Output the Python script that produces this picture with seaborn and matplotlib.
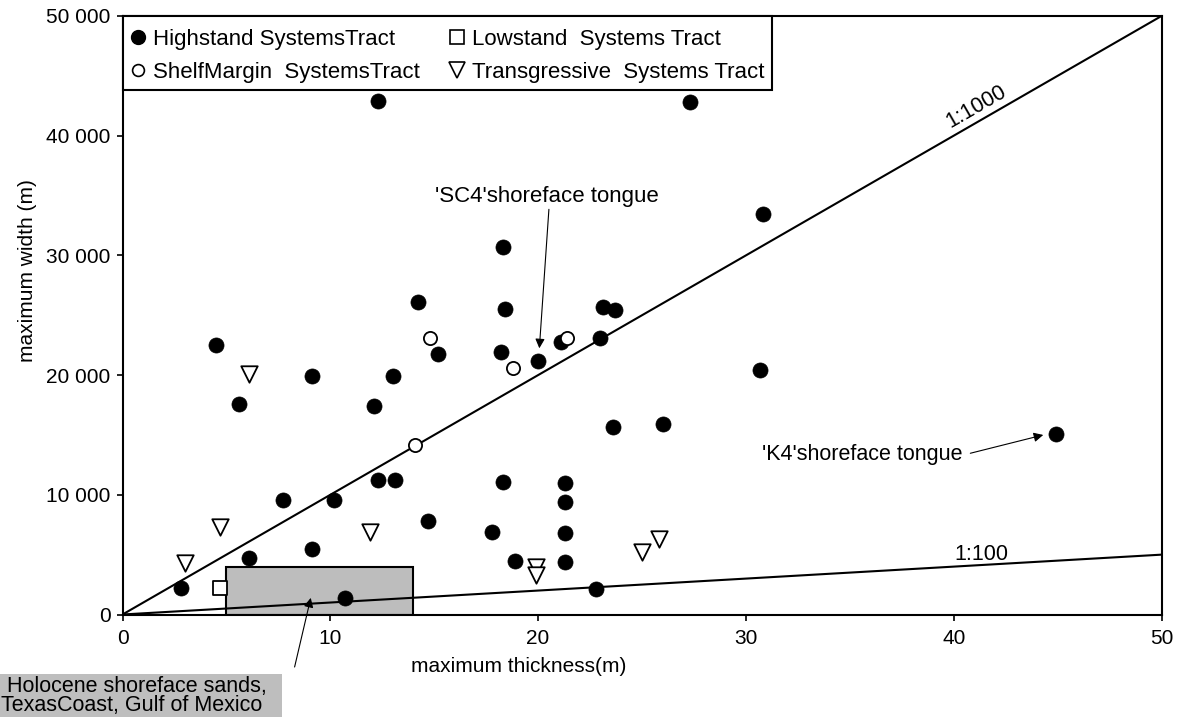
import math
import numpy as np
import pandas as pd
import matplotlib
matplotlib.use("Agg")
import matplotlib.pyplot as plt
import seaborn as sns
from matplotlib.ticker import FuncFormatter
from matplotlib.lines import Line2D
from matplotlib.patches import Rectangle

# Highstand systems tract: maximum thickness (m) / maximum width (m)
hst_thickness = [18.3, 14.2, 18.4, 23.1, 23.7, 4.5, 15.2, 18.2, 21.1, 23.0,
                 20.0, 9.1, 13.0, 5.6, 12.1, 23.6, 26.0, 12.3, 13.1, 18.3,
                 21.3, 7.7, 10.2, 21.3, 14.7, 17.8, 21.3, 21.3, 18.9, 22.8,
                 2.8, 6.1, 9.1, 10.7, 12.3, 27.3, 30.8, 30.7, 44.9]
hst_width = [30700, 26100, 25500, 25700, 25400, 22500, 21800, 21900, 22800, 23100,
             21200, 19900, 19900, 17600, 17400, 15700, 15900, 11200, 11200, 11100,
             11000, 9600, 9600, 9400, 7800, 6900, 6800, 4400, 4500, 2100,
             2200, 4700, 5500, 1400, 42900, 42800, 33500, 20400, 15100]

# Shelf-margin systems tract
smst_thickness = [14.8, 21.4, 18.8, 14.1]
smst_width = [23100, 23100, 20600, 14200]

# Lowstand systems tract
lst_thickness = [4.7]
lst_width = [2200]

# Transgressive systems tract
tst_thickness = [6.1, 4.7, 11.9, 19.9, 19.9, 25.0, 25.8, 3.0]
tst_width = [20100, 7300, 6900, 4000, 3300, 5200, 6300, 4300]

# Holocene shoreface sands, Texas coast (thickness range, max width)
holocene_thickness = (5, 14)
holocene_width = 4000

# Aspect-ratio reference lines (width : thickness)
ratios = [1000, 100]
ratio_labels = ["1:1000", "1:100"]

tract_names = ["Highstand SystemsTract", "ShelfMargin  SystemsTract",
               "Lowstand  Systems Tract", "Transgressive  Systems Tract"]

frames = []
for name, xs, ys in zip(tract_names,
                        [hst_thickness, smst_thickness, lst_thickness, tst_thickness],
                        [hst_width, smst_width, lst_width, tst_width]):
    frames.append(pd.DataFrame({"thickness": xs, "width": ys, "tract": name}))
df = pd.concat(frames, ignore_index=True)

sns.set_theme(style="ticks")
plt.rcParams["font.family"] = ["Liberation Sans", "DejaVu Sans"]
plt.rcParams.update({
    "axes.edgecolor": "black", "axes.labelcolor": "black", "text.color": "black",
    "xtick.color": "black", "ytick.color": "black",
})

W, H = 1178, 717
fig = plt.figure(figsize=(W / 100, H / 100), dpi=100)
ax = fig.add_axes([122.5 / W, 1 - 614.5 / H, 1039 / W, 598.5 / H])
ax.set_xlim(0, 50)
ax.set_ylim(0, 50000)

# Holocene reference box
ax.add_patch(Rectangle((holocene_thickness[0], 0),
                       holocene_thickness[1] - holocene_thickness[0], holocene_width,
                       facecolor="#bdbdbd", edgecolor="black", lw=1.5, zorder=1))

# Ratio lines
for r in ratios:
    ax.axline((0, 0), slope=r, color="black", lw=1.5, zorder=2)

styles = {
    tract_names[0]: dict(marker="o", s=118, color="black", edgecolor="black", linewidth=0.5),
    tract_names[1]: dict(marker="o", s=90, color="white", edgecolor="black", linewidth=1.3),
    tract_names[2]: dict(marker="s", s=100, color="white", edgecolor="black", linewidth=1.3),
    tract_names[3]: dict(marker="v", s=140, color="white", edgecolor="black", linewidth=1.3),
}
for name in tract_names:
    sns.scatterplot(data=df[df["tract"] == name], x="thickness", y="width",
                    ax=ax, zorder=3, legend=False, **styles[name])

ax.set_xticks(np.arange(0, 51, 10))
ax.set_yticks(np.arange(0, 50001, 10000))
ax.yaxis.set_major_formatter(FuncFormatter(lambda v, p: f"{int(v):,}".replace(",", " ")))
ax.tick_params(direction="out", length=4.5, width=1.2, labelsize=15)
ax.tick_params(axis="x", pad=6)
ax.tick_params(axis="y", pad=4)
for sp in ax.spines.values():
    sp.set_linewidth(1.5)
    sp.set_color("black")

ax.set_xlabel("maximum thickness(m)", fontsize=15)
ax.xaxis.label.set_va("center")
ax.xaxis.set_label_coords(0.381, -0.087)
ax.set_ylabel("maximum width (m)", fontsize=15)
ax.yaxis.label.set_va("center")
ax.yaxis.set_label_coords(-0.091, 0.575)

# Ratio-line labels, rotated along each line
for r, lab, xpos, off in zip(ratios, ratio_labels, [41.1, 41.35], [1300, 900]):
    p0 = ax.transData.transform((0, 0))
    p1 = ax.transData.transform((50, 50 * r))
    ang = math.degrees(math.atan2(p1[1] - p0[1], p1[0] - p0[0]))
    rot = ang if r >= 1000 else 0
    ax.text(xpos, xpos * r + off, lab, rotation=rot, rotation_mode="anchor",
            ha="center", va="center", fontsize=15.5, zorder=4)

arrow = dict(arrowstyle="-|>", color="black", lw=0.8, mutation_scale=14,
             shrinkA=0, shrinkB=0)

ax.text(20.43, 34960, "'SC4'shoreface tongue", ha="center", va="center", fontsize=16)
ax.annotate("", xy=(20.06, 22240), xytext=(20.52, 33850), arrowprops=arrow)

ax.text(40.4, 13330, "'K4'shoreface tongue", ha="right", va="center", fontsize=15.5)
ax.annotate("", xy=(44.31, 15000), xytext=(40.8, 13470), arrowprops=arrow)

# Caption box for the Holocene sands, below the axes
fig.patches.append(Rectangle((0, 0), 282 / W, 43 / H, transform=fig.transFigure,
                             facecolor="#bebebe", edgecolor="none", zorder=0))
fig.text(1 / W, 1 - 696 / H, " Holocene shoreface sands,\nTexasCoast, Gulf of Mexico",
         ha="left", va="center", fontsize=15.5, linespacing=0.92)
ax.annotate("", xy=(9.06, 1390), xycoords="data",
            xytext=(294.6 / W, 1 - 667 / H), textcoords="figure fraction",
            arrowprops=arrow, annotation_clip=False)

handles = [
    Line2D([], [], ls="none", marker="o", ms=10, mfc="black", mec="black"),
    Line2D([], [], ls="none", marker="o", ms=8.5, mfc="white", mec="black", mew=1.2),
    Line2D([], [], ls="none", marker="s", ms=9.5, mfc="white", mec="black", mew=1.2),
    Line2D([], [], ls="none", marker="v", ms=11, mfc="white", mec="black", mew=1.2),
]
leg = ax.legend(handles, tract_names, ncol=2, loc="upper left",
                bbox_to_anchor=(8 / 1039, 1 - 13 / 598.5),
                borderaxespad=0, borderpad=0, fontsize=16, frameon=False,
                handlelength=0.7, handletextpad=0.3,
                columnspacing=1.35, labelspacing=0.55)
leg.set_zorder(5)

# Square frame around the legend, flush with the axes' top-left corner
fig.canvas.draw()
bb = leg.get_window_extent(fig.canvas.get_renderer())
inv = ax.transAxes.inverted()
(fx1, fy0), = inv.transform([(bb.x1 + 8, bb.y0 - 7)])
ax.add_patch(Rectangle((0, fy0), fx1, 1 - fy0, transform=ax.transAxes,
                       facecolor="white", edgecolor="black", lw=1.5, zorder=4.5,
                       clip_on=False))

fig.savefig("out.png", dpi=100)
